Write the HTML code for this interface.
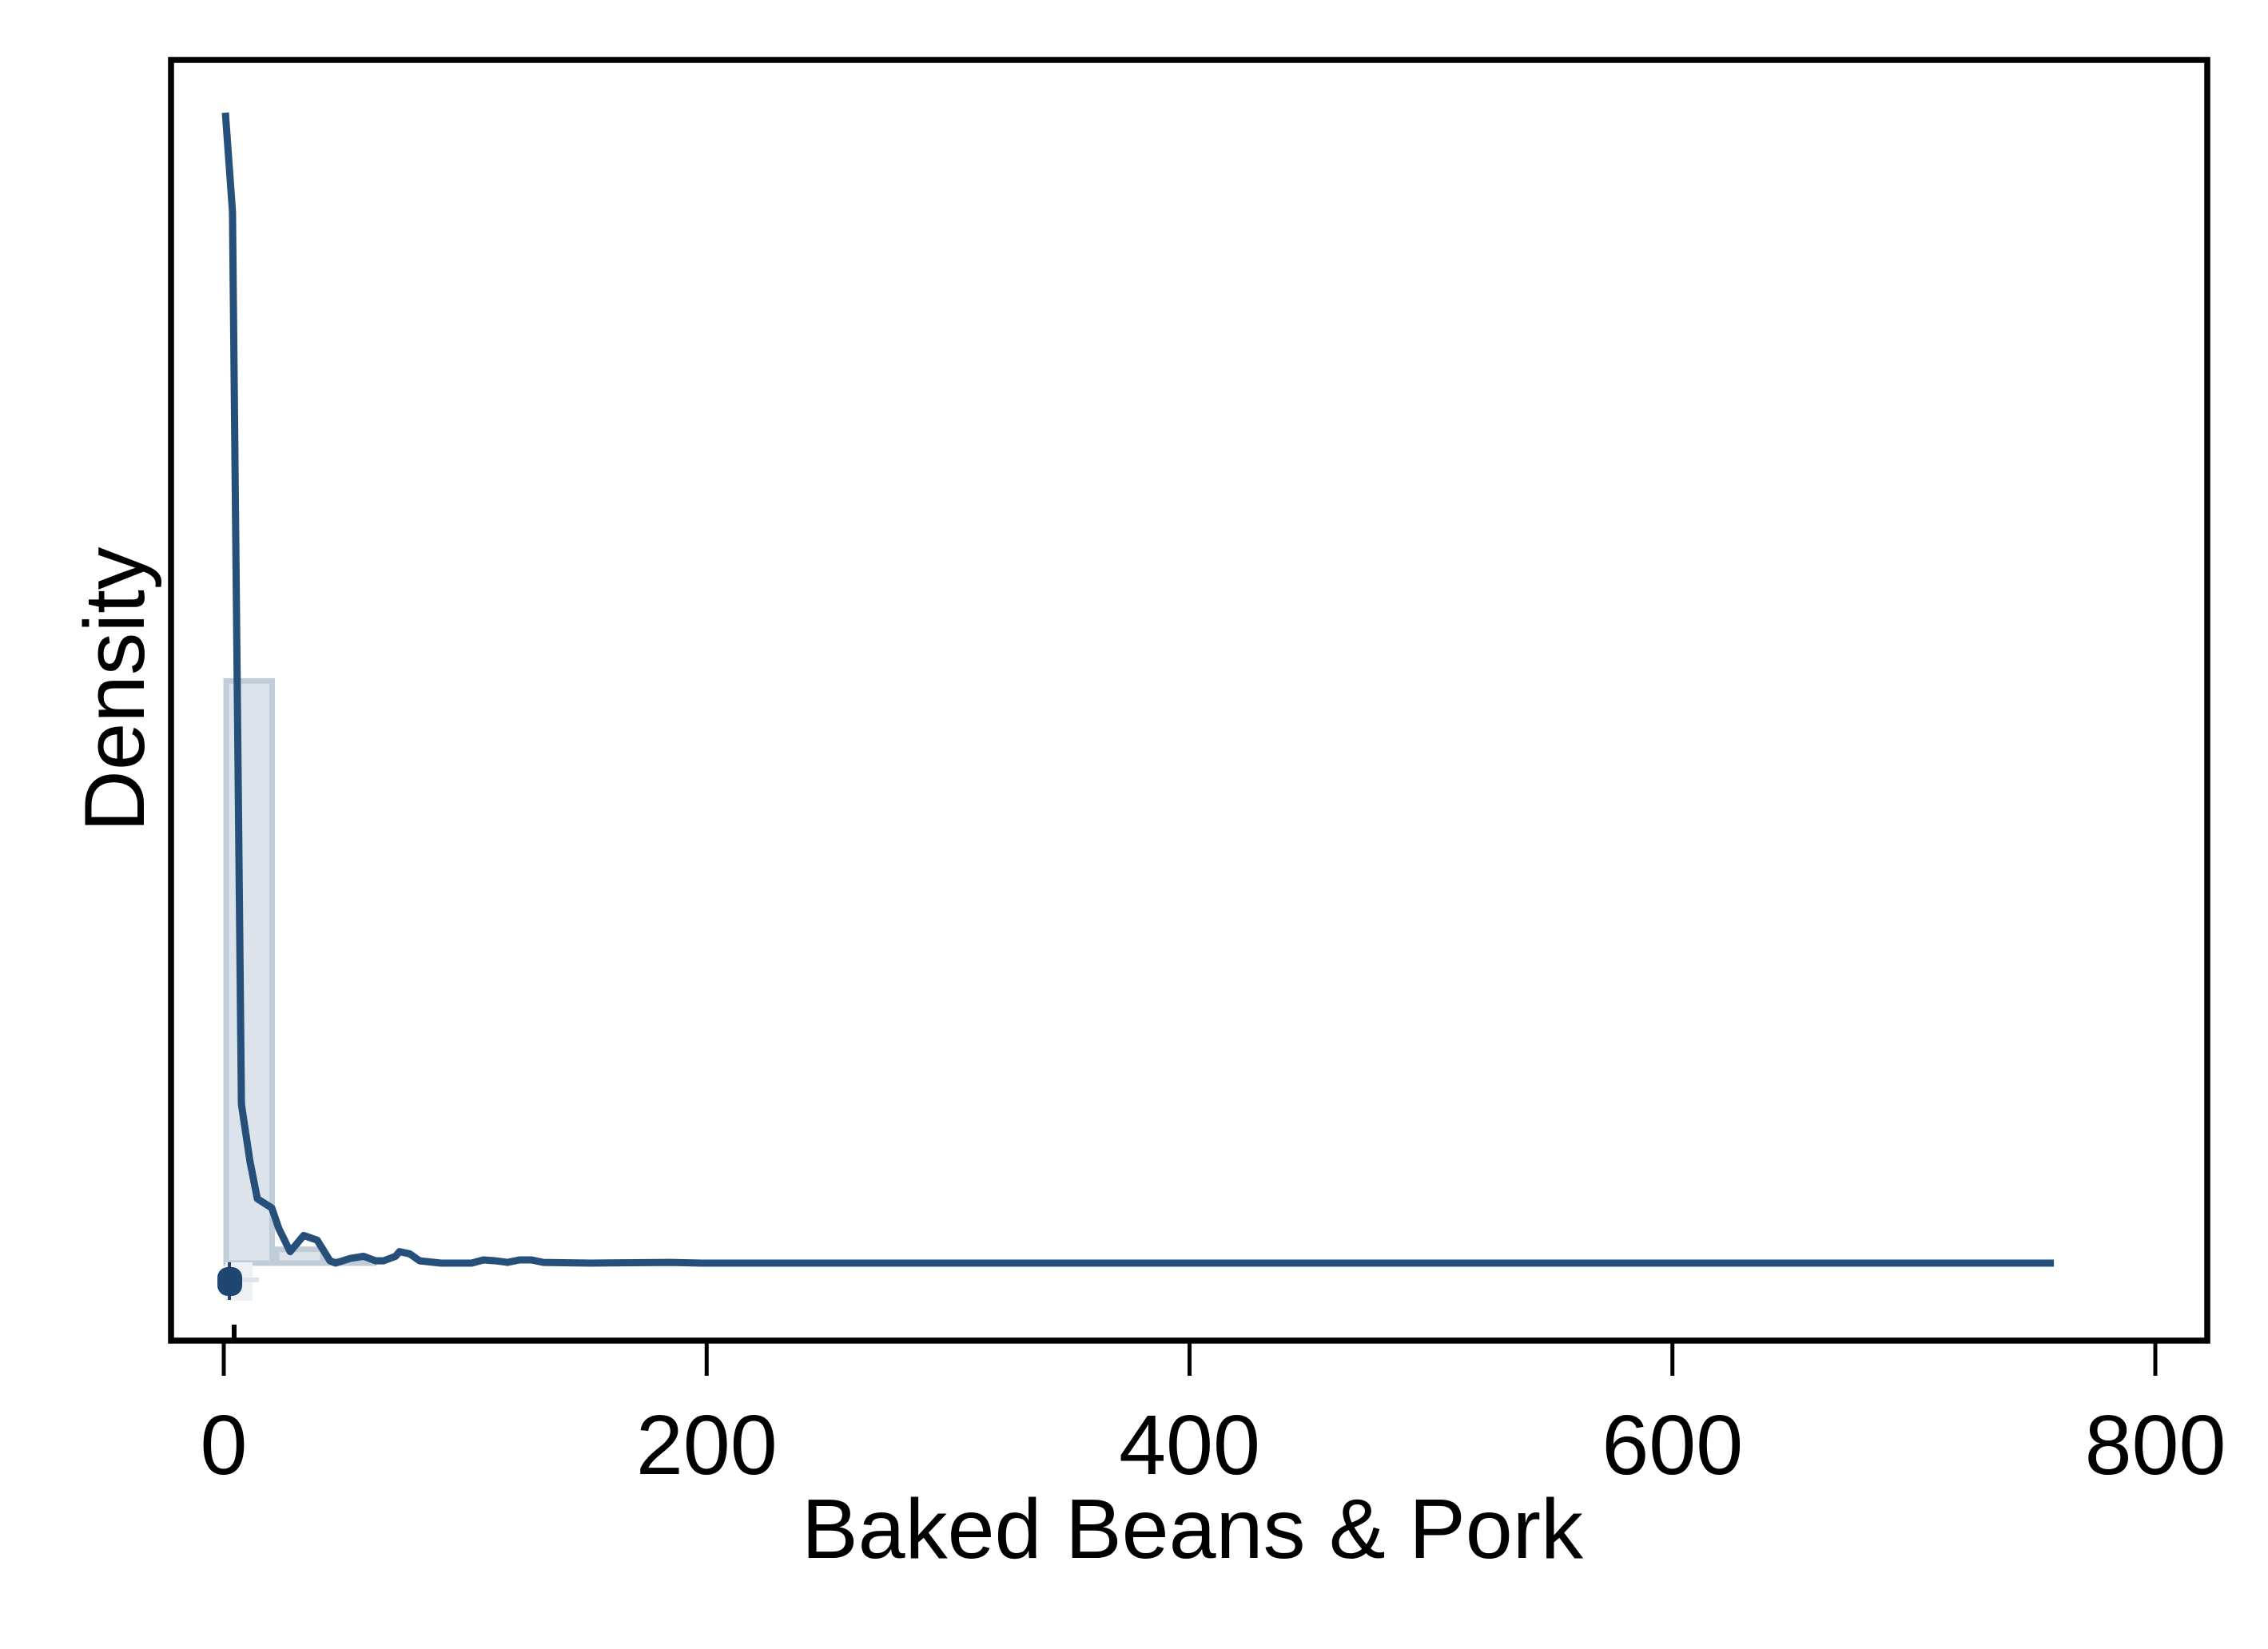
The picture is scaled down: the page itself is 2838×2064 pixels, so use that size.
<!DOCTYPE html>
<html><head><meta charset="utf-8"><style>
html,body{margin:0;padding:0;background:#fff}
svg{display:block}
text{font-family:"Liberation Sans",Arial,sans-serif;fill:#000}
</style></head><body>
<svg id="chart" width="2838" height="2064" viewBox="0 0 2838 2064" xmlns="http://www.w3.org/2000/svg">
<rect x="0" y="0" width="2838" height="2064" fill="#fff"/>
<g id="plot"></g>
<rect x="214" y="75" width="2548" height="1603" fill="none" stroke="#000" stroke-width="7.5"/>
<g id="axis"></g>
<text x="1492" y="1950" font-size="106" text-anchor="middle">Baked Beans &amp; Pork</text>
<text transform="translate(180,863) rotate(-90)" x="0" y="0" font-size="107" text-anchor="middle">Density</text>
</svg>
<script>
const binStarts = [0, 21, 42];
const binEnds = [21, 42, 63];
const binDensity = [0.0253, 0.0006, 0.0001];
const curveX = [0.66,3.6,7.3,10.9,13.9,19.9,22.8,27.5,33.1,38.7,44.0,46.3,52.3,57.9,62.9,66.2,71.2,72.8,77.1,81.1,90,102.6,107.6,112.5,117.5,122.5,127.4,132.4,152,185,198,300,500,700,758];
const curveY = [0.0500,0.0457,0.0069,0.0044,0.0028,0.0024,0.0015,0.0005,0.0012,0.0010,0.0001,0,0.0002,0.0003,0.0001,0.0001,0.0003,0.0005,0.0004,0.0001,0,0,0.00014,0.0001,0.00003,0.00014,0.00014,0.00003,0,0.00003,0,0,0,0,0];
const tickValues = [0, 200, 400, 600, 800];
const tickLabels = ["0", "200", "400", "600", "800"];
const boxMedian = [2];

const NS = "http://www.w3.org/2000/svg";
function sx(v){ return 280 + v * (2697 - 280) / 800; }
function sy(d){ return 1581 - d * 28800; }
function mk(tag, attrs, parent){
  const e = document.createElementNS(NS, tag);
  for (const k in attrs) e.setAttribute(k, attrs[k]);
  parent.appendChild(e);
  return e;
}
const plot = document.getElementById('plot');
const axis = document.getElementById('axis');

for (let i = 0; i < binStarts.length; i++) {
  const x0 = sx(binStarts[i]), x1 = sx(binEnds[i]), y = sy(binDensity[i]);
  const r = mk('rect', {x: x0 + 3, y: y, width: x1 - x0 - 6, height: 1581 - y, fill: '#dce3ea', stroke: '#c0ccd8', 'stroke-width': 7}, plot);
  
  
}

const mx = sx(boxMedian[0]);
const wh = mk('rect', {x: mx - 4, y: 1580, width: 34, height: 48, fill: '#eef1f4'}, plot);


const wl = mk('line', {x1: mx + 10, y1: 1602, x2: mx + 38, y2: 1602, stroke: '#dce3ea', 'stroke-width': 6}, plot);


const vl = mk('line', {x1: mx + 1, y1: 1580, x2: mx + 1, y2: 1627, stroke: '#1e4670', 'stroke-width': 4}, plot);


const dot = mk('rect', {x: mx - 14, y: 1586, width: 31, height: 36, rx: 13, ry: 13, fill: '#1e4670'}, plot);


const rt = mk('line', {x1: 293, y1: 1658, x2: 293, y2: 1675, stroke: '#000', 'stroke-width': 6}, plot);



let dstr = '';
for (let i = 0; i < curveX.length; i++) dstr += (i ? 'L' : 'M') + sx(curveX[i]).toFixed(1) + ' ' + sy(curveY[i]).toFixed(1) + ' ';
const path = mk('path', {d: dstr, fill: 'none', stroke: '#26507a', 'stroke-width': 9, 'stroke-linejoin': 'round'}, plot);



for (let i = 0; i < tickValues.length; i++) {
  const x = sx(tickValues[i]);
  const t = mk('line', {x1: x, y1: 1680, x2: x, y2: 1722, stroke: '#000', 'stroke-width': 5}, axis);
  
  
  const l = mk('text', {x: x, y: 1845, 'font-size': 106, 'text-anchor': 'middle'}, axis);
  l.textContent = tickLabels[i];
  
  
}
</script>
</body></html>
